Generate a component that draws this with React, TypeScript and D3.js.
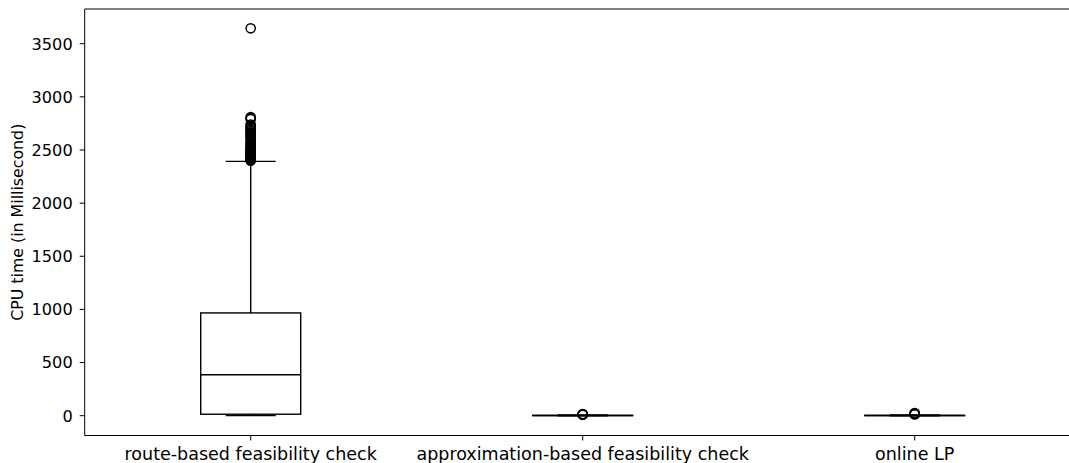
import React from "react";
import * as d3 from "d3";

const categories = [
  "route-based feasibility check",
  "approximation-based feasibility check",
  "online LP",
];
const whiskerLow = [1, 0, 0];
const q1Values = [14, 1, 1];
const medianValues = [385, 2, 2];
const q3Values = [967, 3, 3];
const whiskerHigh = [2393, 6, 6];
const outliers1 = [
  2400, 2405, 2410, 2415, 2420, 2428, 2435, 2442, 2450, 2458, 2465, 2472, 2480,
  2488, 2495, 2503, 2512, 2520, 2530, 2540, 2552, 2565, 2580, 2600, 2615, 2628,
  2640, 2652, 2665, 2678, 2690, 2702, 2715, 2728, 2740, 2790, 2800, 2810, 3645,
];
const outliers2 = [9, 11, 13, 15];
const outliers3 = [12, 16, 20, 24];
const outlierSets = [outliers1, outliers2, outliers3];
const yTicks = [0, 500, 1000, 1500, 2000, 2500, 3000, 3500];
const yLabel = "CPU time (in Millisecond)";

const W = 1069;
const H = 463;
const left = 84.7;
const top = 9;
const bottom = 435.5;
const FONT = "'DejaVu Sans', sans-serif";

export default function App() {
  const x = d3.scaleLinear().domain([0.5, 3.5]).range([left, 1080.7]);
  const y = d3.scaleLinear().domain([0, 3500]).range([415.7, 43.7]);
  const boxW = 100;
  const capW = 50;

  return (
    <svg
      width={W}
      height={H}
      style={{ position: "absolute", left: 0, top: 0, background: "#fff" }}
      fontFamily={FONT}
    >
      <rect x={0} y={0} width={W} height={H} fill="#fff" />
      {categories.map((c, i) => {
        const cx = x(i + 1);
        return (
          <g key={c} stroke="#000" strokeWidth={1.4} fill="none">
            <line x1={cx} x2={cx} y1={y(whiskerLow[i])} y2={y(q1Values[i])} />
            <line x1={cx} x2={cx} y1={y(q3Values[i])} y2={y(whiskerHigh[i])} />
            <line x1={cx - capW / 2} x2={cx + capW / 2} y1={y(whiskerLow[i])} y2={y(whiskerLow[i])} />
            <line x1={cx - capW / 2} x2={cx + capW / 2} y1={y(whiskerHigh[i])} y2={y(whiskerHigh[i])} />
            <rect
              x={cx - boxW / 2}
              y={y(q3Values[i])}
              width={boxW}
              height={Math.max(0, y(q1Values[i]) - y(q3Values[i]))}
            />
            <line x1={cx - boxW / 2} x2={cx + boxW / 2} y1={y(medianValues[i])} y2={y(medianValues[i])} />
            {outlierSets[i].map((v, k) => (
              <circle key={k} cx={cx} cy={y(v)} r={4.6} strokeWidth={1.5} />
            ))}
          </g>
        );
      })}
      {/* spines */}
      <g stroke="#000" strokeWidth={1}>
        <line x1={left} x2={left} y1={top} y2={bottom} />
        <line x1={left} x2={W} y1={top} y2={top} />
        <line x1={left} x2={W} y1={bottom} y2={bottom} />
      </g>
      {/* y ticks */}
      {yTicks.map((t) => (
        <g key={t}>
          <line x1={left - 5} x2={left} y1={y(t)} y2={y(t)} stroke="#000" strokeWidth={1} />
          <text
            x={left - 12}
            y={y(t)}
            dy="0.36em"
            textAnchor="end"
            fontSize={16.2}
            fill="#000"
          >
            {t}
          </text>
        </g>
      ))}
      {/* x ticks */}
      {categories.map((c, i) => (
        <g key={c}>
          <line x1={x(i + 1)} x2={x(i + 1)} y1={bottom} y2={bottom + 5} stroke="#000" strokeWidth={1} />
          <text x={x(i + 1)} y={bottom + 24} textAnchor="middle" fontSize={17.5} fill="#000">
            {c}
          </text>
        </g>
      ))}
      <text
        transform={`translate(${23},${(top + bottom) / 2}) rotate(-90)`}
        textAnchor="middle"
        fontSize={15.8}
        fill="#000"
      >
        {yLabel}
      </text>
    </svg>
  );
}
